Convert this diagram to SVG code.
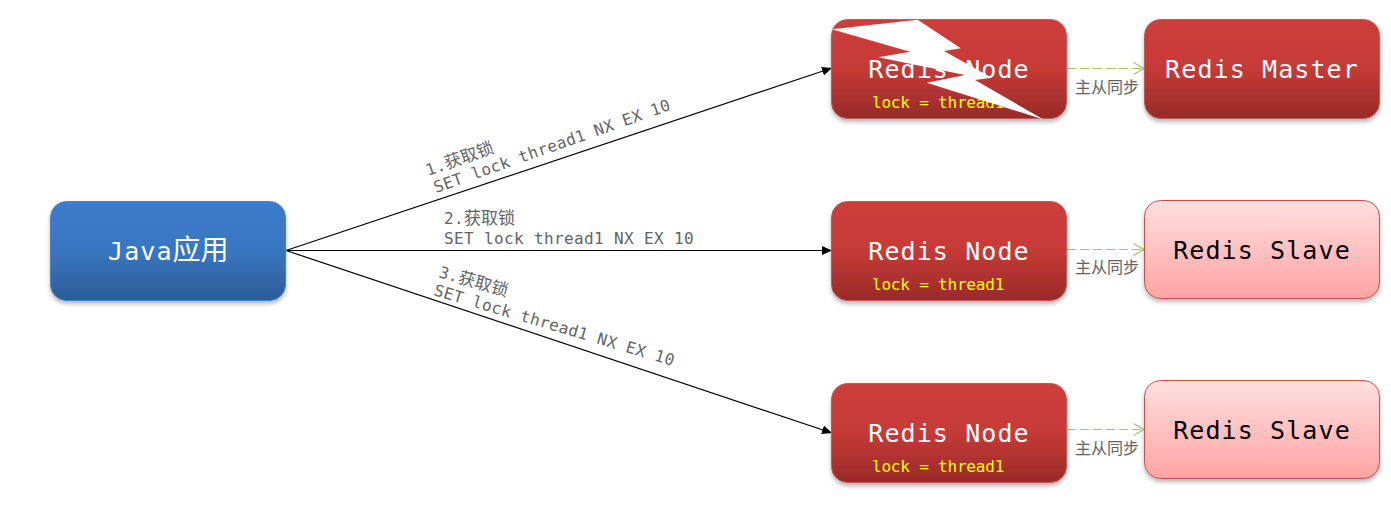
<svg xmlns="http://www.w3.org/2000/svg" width="1391" height="506" viewBox="0 0 1391 506">
<defs>
<linearGradient id="red" x1="0" y1="0" x2="0" y2="1"><stop offset="0" stop-color="#cc3d3a"/><stop offset="0.5" stop-color="#c63a37"/><stop offset="1" stop-color="#982a28"/></linearGradient>
<linearGradient id="blue" x1="0" y1="0" x2="0" y2="1"><stop offset="0" stop-color="#3b7ccb"/><stop offset="0.5" stop-color="#3976c1"/><stop offset="1" stop-color="#2c5c96"/></linearGradient>
<linearGradient id="pink" x1="0" y1="0" x2="0" y2="1"><stop offset="0" stop-color="#ffdfdf"/><stop offset="1" stop-color="#ffa3a3"/></linearGradient>
<filter id="sh" x="-10%" y="-10%" width="120%" height="125%"><feDropShadow dx="0" dy="3" stdDeviation="2" flood-color="#000" flood-opacity="0.28"/></filter>
<marker id="solid" markerUnits="userSpaceOnUse" markerWidth="12" markerHeight="10" refX="10" refY="4.5" orient="auto"><path d="M0 0L10 4.5L0 9Z" fill="#000"/></marker>
<marker id="open" markerUnits="userSpaceOnUse" markerWidth="14" markerHeight="16" refX="11.5" refY="7" orient="auto"><path d="M1 1L11.5 7L1 13" fill="none" stroke="#a2c565" stroke-width="1.2"/></marker>
</defs>
<style>
text{font-family:"DejaVu Sans Mono","Noto Sans CJK SC",monospace;white-space:pre}
.box{filter:url(#sh)}
.r{fill:url(#red);stroke:#c05a58;stroke-width:1}
.b{fill:url(#blue);stroke:#4a80c0;stroke-width:1}
.p{fill:url(#pink);stroke:#c9504e;stroke-width:1}
.t{font-size:25px;letter-spacing:1.1px;fill:#fff;text-anchor:middle}
.d{fill:#000}
.y{font-size:16px;letter-spacing:-.2px;fill:#ff0}
.l{font-size:16px;letter-spacing:.37px;fill:#636363}
.c{font-family:"Noto Sans CJK SC",sans-serif;font-size:17px;letter-spacing:0}
.j{font-family:"Noto Sans CJK SC",sans-serif;font-size:28px;letter-spacing:0}
.s{font-family:"Noto Sans CJK SC",sans-serif;font-size:16px;fill:#636363}
.e{fill:none;stroke:#000;stroke-width:1.2;marker-end:url(#solid)}
.g{fill:none;stroke:#a2c565;stroke-width:1;stroke-dasharray:9 4;marker-end:url(#open)}
</style>
<g id="connectors">
<path class="e" d="M286 250.500L832 68"/>
<path class="e" d="M286 250.500L832 250.500"/>
<path class="e" d="M286 250.500L832 433"/>
<path class="g" d="M1067 68.500L1144 68.500"/>
<path class="g" d="M1067 249.500L1144 249.500"/>
<path class="g" d="M1067 429.500L1144 429.500"/>
</g>
<g id="labels">
<text class="l" transform="translate(428 176) rotate(-19.500)">1.<tspan class="c">获取锁</tspan></text>
<text class="l" transform="translate(436 193) rotate(-19.500)">SET lock thread1 NX EX 10</text>
<text class="l" x="444" y="224">2.<tspan class="c">获取锁</tspan></text>
<text class="l" x="444" y="244">SET lock thread1 NX EX 10</text>
<text class="l" transform="translate(438 277) rotate(16)">3.<tspan class="c">获取锁</tspan></text>
<text class="l" transform="translate(433 295) rotate(16.500)">SET lock thread1 NX EX 10</text>
<text class="s" x="1075" y="93">主从同步</text>
<text class="s" x="1075" y="273">主从同步</text>
<text class="s" x="1075" y="454">主从同步</text>
</g>
<g id="java"><rect class="box b" x="50.500" y="201.500" width="235" height="99" rx="16"/><text class="t" x="108" y="260" style="text-anchor:start">Java<tspan class="j">应用</tspan></text></g>
<g id="node1"><rect class="box r" x="831.500" y="19.500" width="235" height="99" rx="16"/><text class="t" x="949" y="78">Redis Node</text><text class="y" x="872" y="108">lock = thread1</text></g>
<g id="node2"><rect class="box r" x="831.500" y="201.500" width="235" height="99" rx="16"/><text class="t" x="949" y="260">Redis Node</text><text class="y" x="872" y="290">lock = thread1</text></g>
<g id="node3"><rect class="box r" x="831.500" y="383.500" width="235" height="99" rx="16"/><text class="t" x="949" y="442">Redis Node</text><text class="y" x="872" y="472">lock = thread1</text></g>
<g id="master"><rect class="box r" x="1144.500" y="19.500" width="235" height="99" rx="16"/><text class="t" x="1262" y="78">Redis Master</text></g>
<g id="slave1"><rect class="box p" x="1144.500" y="200.500" width="235" height="98" rx="16"/><text class="t d" x="1262" y="259">Redis Slave</text></g>
<g id="slave2"><rect class="box p" x="1144.500" y="380.500" width="235" height="98" rx="16"/><text class="t d" x="1262" y="439">Redis Slave</text></g>
<polygon id="lightning" fill="#fff" points="831.700,29.300 917.700,19.700 960.700,48.300 944,51 991.700,77.700 975,80 1043.500,119.500 926.700,82.700 965,75 878.300,57.300 910,51.700"/>
</svg>
